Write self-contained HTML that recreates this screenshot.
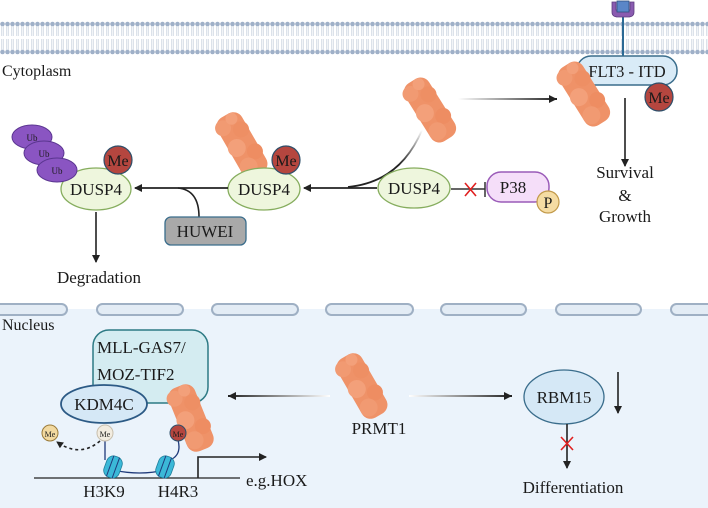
<!DOCTYPE html>
<html><head><meta charset="utf-8"><style>
html,body{margin:0;padding:0;background:#fff;}
svg{display:block;}
text{font-family:"Liberation Serif",serif;fill:#1a1a1a;}
</style></head><body>
<svg width="708" height="508" viewBox="0 0 708 508" xmlns="http://www.w3.org/2000/svg">
<defs>
<pattern id="mem" x="0" y="21" width="5" height="34" patternUnits="userSpaceOnUse">
<circle cx="2.5" cy="3" r="2.3" fill="#9fb0c8"/>
<line x1="1.8" y1="5" x2="1.8" y2="15" stroke="#b8c5d6" stroke-width="0.6"/>
<line x1="3.2" y1="5" x2="3.2" y2="15" stroke="#b8c5d6" stroke-width="0.6"/>
<line x1="1.8" y1="18" x2="1.8" y2="29" stroke="#b8c5d6" stroke-width="0.6"/>
<line x1="3.2" y1="18" x2="3.2" y2="29" stroke="#b8c5d6" stroke-width="0.6"/>
<circle cx="2.5" cy="31" r="2.3" fill="#9fb0c8"/>
</pattern>
<g id="prot">
<rect x="-14" y="-34" width="28" height="68" rx="10" fill="#ef9268"/>
<circle cx="-8" cy="-24" r="8" fill="#f19a72"/><circle cx="7" cy="-14" r="8" fill="#ee8f64"/>
<circle cx="-6" cy="0" r="9" fill="#f3a07a"/><circle cx="8" cy="12" r="8" fill="#ee8d62"/>
<circle cx="-5" cy="22" r="9" fill="#f19a72"/><circle cx="4" cy="-28" r="6" fill="#f3a07a"/>
</g>
<marker id="ah" markerWidth="8" markerHeight="8" refX="7" refY="4" orient="auto" markerUnits="userSpaceOnUse"><path d="M0,0 L8,4 L0,8 z" fill="#222"/></marker>
<marker id="ahs" markerWidth="7" markerHeight="7" refX="6" refY="3.5" orient="auto" markerUnits="userSpaceOnUse"><path d="M0,0 L7,3.5 L0,7 z" fill="#222"/></marker>
<linearGradient id="g1" gradientUnits="userSpaceOnUse" x1="458" y1="0" x2="557" y2="0"><stop offset="0" stop-color="#fff"/><stop offset="1" stop-color="#222"/></linearGradient>
<linearGradient id="g2" gradientUnits="userSpaceOnUse" x1="330" y1="0" x2="228" y2="0"><stop offset="0" stop-color="#fff"/><stop offset="1" stop-color="#222"/></linearGradient>
<linearGradient id="g3" gradientUnits="userSpaceOnUse" x1="409" y1="0" x2="512" y2="0"><stop offset="0" stop-color="#fff"/><stop offset="1" stop-color="#222"/></linearGradient>
<linearGradient id="g4" gradientUnits="userSpaceOnUse" x1="0" y1="130" x2="0" y2="188"><stop offset="0" stop-color="#fff"/><stop offset="0.6" stop-color="#222"/></linearGradient>
</defs>

<rect x="0" y="21" width="708" height="34" fill="url(#mem)"/>
<line x1="623" y1="14" x2="623" y2="56" stroke="#2c6a95" stroke-width="2"/>
<path d="M612,2 L612,12 Q612,17 618,17 L628,17 Q634,17 634,12 L634,2 L630,2 L630,10 L616,10 L616,2 z" fill="#8a5bb0" stroke="#5e3d80" stroke-width="0.8"/>
<rect x="617" y="1" width="12" height="11" fill="#5a86c8" stroke="#2f4f80" stroke-width="0.8"/>

<text x="2" y="76" font-size="16">Cytoplasm</text>

<rect x="577" y="56" width="100" height="29" rx="14" fill="#d9ebf7" stroke="#3a6d8c" stroke-width="1.5"/>
<text x="627" y="77" font-size="16.5" text-anchor="middle">FLT3 - ITD</text>
<use href="#prot" transform="translate(584,94) rotate(-32)"/>
<circle cx="659" cy="97" r="14" fill="#b5463f" stroke="#2d4f6a" stroke-width="1.2"/>
<text x="659" y="103" font-size="16" text-anchor="middle">Me</text>

<line x1="458" y1="99" x2="557" y2="99" stroke="url(#g1)" stroke-width="2"/>
<path d="M549,95 L557,99 L549,103 z" fill="#222"/>
<use href="#prot" transform="translate(430,110) rotate(-32)"/>
<line x1="625" y1="98" x2="625" y2="166" stroke="#222" stroke-width="1.6" marker-end="url(#ah)"/>
<text x="625" y="178" font-size="17" text-anchor="middle">Survival</text>
<text x="625" y="201" font-size="17" text-anchor="middle">&amp;</text>
<text x="625" y="222" font-size="17" text-anchor="middle">Growth</text>

<path d="M422,130 Q400,182 348,187" fill="none" stroke="url(#g4)" stroke-width="1.8"/>

<ellipse cx="414" cy="188" rx="36" ry="20" fill="#eef6dd" stroke="#86ad5e" stroke-width="1.3"/>
<text x="414" y="194" font-size="17" text-anchor="middle">DUSP4</text>
<line x1="451" y1="189" x2="485" y2="189" stroke="#333" stroke-width="1.5"/>
<line x1="485" y1="182" x2="485" y2="197" stroke="#333" stroke-width="1.5"/>
<path d="M465,183 L476,196 M476,183 L465,196" stroke="#e02020" stroke-width="1.6"/>
<rect x="487" y="172" width="62" height="30" rx="14" fill="#f5def9" stroke="#9a5bb8" stroke-width="1.5"/>
<text x="513" y="193" font-size="17" text-anchor="middle">P38</text>
<circle cx="548" cy="202" r="11" fill="#f5dca3" stroke="#c29a4a" stroke-width="1.2"/>
<text x="548" y="208" font-size="16" text-anchor="middle">P</text>

<line x1="377" y1="188" x2="304" y2="188" stroke="#222" stroke-width="1.8" marker-end="url(#ah)"/>
<use href="#prot" transform="translate(242,145) rotate(-30)"/>
<ellipse cx="264" cy="189" rx="36" ry="21" fill="#eef6dd" stroke="#86ad5e" stroke-width="1.3"/>
<text x="264" y="195" font-size="17" text-anchor="middle">DUSP4</text>
<circle cx="286" cy="160" r="14" fill="#b5463f" stroke="#2d4f6a" stroke-width="1.2"/>
<text x="286" y="166" font-size="16" text-anchor="middle">Me</text>

<line x1="228" y1="188" x2="135" y2="188" stroke="#222" stroke-width="1.8" marker-end="url(#ah)"/>
<path d="M199,217 Q199,190 178,188" fill="none" stroke="#222" stroke-width="1.6"/>
<rect x="165" y="217" width="81" height="28" rx="6" fill="#a9a9a9" stroke="#3a6d8c" stroke-width="1.3"/>
<text x="205" y="237" font-size="17" text-anchor="middle">HUWEI</text>

<ellipse cx="96" cy="189" rx="35" ry="21" fill="#eef6dd" stroke="#86ad5e" stroke-width="1.3"/>
<text x="96" y="195" font-size="17" text-anchor="middle">DUSP4</text>
<ellipse cx="32" cy="137" rx="20" ry="12" fill="#8a55c2" stroke="#5a3590" stroke-width="1"/>
<text x="32" y="141" font-size="9" text-anchor="middle">Ub</text>
<ellipse cx="44" cy="153" rx="20" ry="12" fill="#8a55c2" stroke="#5a3590" stroke-width="1"/>
<text x="44" y="157" font-size="9" text-anchor="middle">Ub</text>
<ellipse cx="57" cy="170" rx="20" ry="12" fill="#8a55c2" stroke="#5a3590" stroke-width="1"/>
<text x="57" y="174" font-size="9" text-anchor="middle">Ub</text>
<circle cx="118" cy="160" r="14" fill="#b5463f" stroke="#2d4f6a" stroke-width="1.2"/>
<text x="118" y="166" font-size="16" text-anchor="middle">Me</text>
<line x1="96" y1="212" x2="96" y2="262" stroke="#222" stroke-width="1.6" marker-end="url(#ah)"/>
<text x="99" y="283" font-size="17" text-anchor="middle">Degradation</text>

<rect x="0" y="309" width="708" height="199" fill="#ebf3fb"/>
<g fill="#e3ecf5" stroke="#9fb0c4" stroke-width="2">
<rect x="-10" y="304" width="77" height="11" rx="5.5"/>
<rect x="97" y="304" width="86" height="11" rx="5.5"/>
<rect x="212" y="304" width="86" height="11" rx="5.5"/>
<rect x="326" y="304" width="87" height="11" rx="5.5"/>
<rect x="441" y="304" width="85" height="11" rx="5.5"/>
<rect x="556" y="304" width="85" height="11" rx="5.5"/>
<rect x="671" y="304" width="50" height="11" rx="5.5"/>
</g>
<text x="2" y="330" font-size="16">Nucleus</text>

<rect x="93" y="330" width="115" height="73" rx="16" fill="#d4ecf1" stroke="#2d7a84" stroke-width="1.5"/>
<text x="97" y="353" font-size="17">MLL-GAS7/</text>
<text x="97" y="380" font-size="17">MOZ-TIF2</text>
<ellipse cx="104" cy="404" rx="43" ry="19" fill="#d5e8f6" stroke="#2c5a85" stroke-width="1.8"/>
<text x="104" y="410" font-size="17" text-anchor="middle">KDM4C</text>
<use href="#prot" transform="translate(191,418) rotate(-22)"/>

<line x1="34" y1="478" x2="240" y2="478" stroke="#222" stroke-width="1.2"/>
<path d="M105,440 L105,460 M178,440 Q182,455 170,460" fill="none" stroke="#1f3a7a" stroke-width="1.3"/>
<path d="M113,470 Q140,476 165,470" fill="none" stroke="#1f3a7a" stroke-width="1.3"/>
<g transform="translate(113,467) rotate(20)"><rect x="-8" y="-11" width="16" height="22" rx="7" fill="#3bb8d8" stroke="#1e7e9a" stroke-width="0.8"/><line x1="-3" y1="-11" x2="-3" y2="11" stroke="#1f3a7a"/><line x1="3" y1="-11" x2="3" y2="11" stroke="#1f3a7a"/></g>
<g transform="translate(165,467) rotate(20)"><rect x="-8" y="-11" width="16" height="22" rx="7" fill="#3bb8d8" stroke="#1e7e9a" stroke-width="0.8"/><line x1="-3" y1="-11" x2="-3" y2="11" stroke="#1f3a7a"/><line x1="3" y1="-11" x2="3" y2="11" stroke="#1f3a7a"/></g>
<circle cx="50" cy="433" r="8" fill="#f2d9a0" stroke="#9a7a3a" stroke-width="1"/>
<text x="50" y="437" font-size="8" text-anchor="middle">Me</text>
<circle cx="105" cy="433" r="8" fill="#f2ece0" stroke="#c8bfae" stroke-width="1"/>
<text x="105" y="437" font-size="8" text-anchor="middle" fill="#aaa">Me</text>
<circle cx="178" cy="433" r="8" fill="#b5463f" stroke="#2d4f6a" stroke-width="1"/>
<text x="178" y="437" font-size="8" text-anchor="middle">Me</text>
<path d="M100,441 Q80,458 57,442" fill="none" stroke="#222" stroke-width="1.6" stroke-dasharray="3,3" marker-end="url(#ahs)"/>
<text x="104" y="497" font-size="17" text-anchor="middle">H3K9</text>
<text x="178" y="497" font-size="17" text-anchor="middle">H4R3</text>
<path d="M198,478 L198,457 L266,457" fill="none" stroke="#222" stroke-width="1.6" marker-end="url(#ah)"/>
<text x="246" y="486" font-size="17">e.g.HOX</text>

<line x1="330" y1="396" x2="228" y2="396" stroke="url(#g2)" stroke-width="2"/>
<path d="M236,392 L228,396 L236,400 z" fill="#222"/>
<use href="#prot" transform="translate(362,386) rotate(-30)"/>
<text x="379" y="434" font-size="17" text-anchor="middle">PRMT1</text>
<line x1="409" y1="396" x2="512" y2="396" stroke="url(#g3)" stroke-width="2"/>
<path d="M504,392 L512,396 L504,400 z" fill="#222"/>
<ellipse cx="564" cy="397" rx="40" ry="27" fill="#d5e8f6" stroke="#3a6d8c" stroke-width="1.3"/>
<text x="564" y="403" font-size="17" text-anchor="middle">RBM15</text>
<line x1="618" y1="372" x2="618" y2="413" stroke="#222" stroke-width="1.6" marker-end="url(#ah)"/>
<line x1="567" y1="424" x2="567" y2="468" stroke="#222" stroke-width="1.6" marker-end="url(#ah)"/>
<path d="M561,437 L573,450 M573,437 L561,450" stroke="#e02020" stroke-width="1.6"/>
<text x="573" y="493" font-size="17" text-anchor="middle">Differentiation</text>
</svg>
</body></html>
